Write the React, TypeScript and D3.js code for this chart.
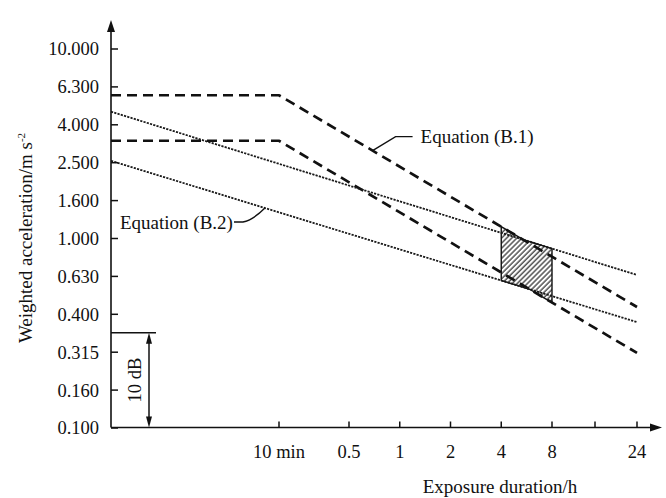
import React from 'react'
import * as d3 from 'd3'

const W = 666
const H = 498

// y axis labels (evenly spaced in the original drawing)
const yTickLabels = ['10.000', '6.300', '4.000', '2.500', '1.600', '1.000', '0.630', '0.400', '0.315', '0.160', '0.100']
// x axis ticks, exposure duration in hours
const xTickHours = [1 / 6, 0.5, 1, 2, 4, 8, 16, 24]
const xTickLabels = ['10 min', '0.5', '1', '2', '4', '8', '', '24']

// [hours, weighted acceleration m/s²]
const b1Upper: [number, number][] = [[1 / 60, 5.7], [1 / 6, 5.7], [24, 0.435]]
const b1Lower: [number, number][] = [[1 / 60, 3.28], [1 / 6, 3.28], [24, 0.249]]
const b2Upper: [number, number][] = [[1 / 60, 4.67], [24, 0.642]]
const b2Lower: [number, number][] = [[1 / 60, 2.57], [24, 0.362]]
const zoneHours = [4, 8]
const dbMarker = 10
const b1LabelAt = 0.69
const b2LabelAt = 0.1375

const FONT = '"Liberation Serif", "Times New Roman", serif'

export default function App() {
  const axisY = 427.5
  const axisX = 111

  const x = d3.scaleLog()
    .domain([1 / 60, 1 / 6, 0.5, 8, 16, 24])
    .range([axisX, 279, 349, 552, 595, 637])

  const yPoint = d3.scalePoint<string>().domain(yTickLabels).range([49, 428])
  const yLog = d3.scaleLog().domain([1, 10]).range([yPoint('1.000')!, yPoint('10.000')!])

  const line = d3.line<[number, number]>()
    .x(d => x(d[0]))
    .y(d => yLog(d[1]))

  // pixel y of a series at pixel x
  const lineY = (pts: [number, number][], px: number) => {
    const p = pts.map(d => [x(d[0]), yLog(d[1])])
    for (let i = 0; i < p.length - 1; i++) {
      if (px >= p[i][0] && px <= p[i + 1][0]) {
        const t = (px - p[i][0]) / (p[i + 1][0] - p[i][0])
        return p[i][1] + t * (p[i + 1][1] - p[i][1])
      }
    }
    return p[p.length - 1][1]
  }

  // hatched zone between 4 h and 8 h
  const x0 = x(zoneHours[0]), x1 = x(zoneHours[1])
  const xs = d3.range(0, 41).map(i => x0 + (x1 - x0) * i / 40)
  const top = xs.map(px => [px, Math.min(lineY(b1Upper, px), lineY(b2Upper, px))])
  const bot = xs.map(px => [px, Math.max(lineY(b1Lower, px), lineY(b2Lower, px))])
  const zone = top.concat(bot.reverse())
  const zonePath = 'M' + zone.map(p => p.join(',')).join('L') + 'Z'

  const dbTop = axisY - (yLog(1) - yLog(Math.pow(10, dbMarker / 20)))

  const a1x = x(b1LabelAt), a1y = lineY(b1Upper, a1x)
  const a2x = x(b2LabelAt), a2y = lineY(b2Lower, a2x)

  return (
    <svg width={W} height={H} style={{ position: 'absolute', left: 0, top: 0, background: '#fff' }}
      fontFamily={FONT} fill="#111">
      <defs>
        <pattern id="hatch" patternUnits="userSpaceOnUse" width={3.6} height={3.6} patternTransform="rotate(45)">
          <line x1={1} y1={0} x2={1} y2={3.6} stroke="#111" strokeWidth={1.1} />
        </pattern>
      </defs>

      {/* zone */}
      <path d={zonePath} fill="url(#hatch)" stroke="#111" strokeWidth={1.4} />

      {/* equation lines */}
      {[b1Upper, b1Lower].map((d, i) => (
        <path key={'b1' + i} d={line(d)!} fill="none" stroke="#111" strokeWidth={2.7} strokeDasharray="10,6" />
      ))}
      {[b2Upper, b2Lower].map((d, i) => (
        <path key={'b2' + i} d={line(d)!} fill="none" stroke="#1a1a1a" strokeWidth={1.8} strokeDasharray="2.2,1.2" />
      ))}

      {/* axes */}
      <line x1={axisX} y1={axisY} x2={axisX} y2={30} stroke="#111" strokeWidth={1.6} />
      <path d={`M${axisX},20 L${axisX - 4},32 L${axisX + 4},32 Z`} fill="#111" />
      <line x1={axisX} y1={axisY} x2={652} y2={axisY} stroke="#111" strokeWidth={1.6} />
      <path d={`M662,${axisY} L650,${axisY - 4} L650,${axisY + 4} Z`} fill="#111" />

      {yTickLabels.map(l => (
        <g key={l}>
          <line x1={axisX} x2={axisX + 7} y1={yPoint(l)} y2={yPoint(l)} stroke="#111" strokeWidth={1.5} />
          <text x={99} y={yPoint(l)} dy="0.35em" textAnchor="end" fontSize={18.5}>{l}</text>
        </g>
      ))}

      {xTickHours.map((h, i) => (
        <g key={i}>
          <line x1={x(h)} x2={x(h)} y1={axisY} y2={axisY - 6} stroke="#111" strokeWidth={1.5} />
          <text x={x(h)} y={457.5} textAnchor="middle" fontSize={18.5}>{xTickLabels[i]}</text>
        </g>
      ))}

      <text x={500} y={493} textAnchor="middle" fontSize={19}>Exposure duration/h</text>
      <text transform="translate(32,238) rotate(-90)" textAnchor="middle" fontSize={19}>
        Weighted acceleration/m s<tspan dy={-7} fontSize={11}>-2</tspan>
      </text>

      {/* 10 dB marker */}
      <line x1={axisX} x2={156} y1={dbTop} y2={dbTop} stroke="#111" strokeWidth={1.5} />
      <line x1={149} x2={149} y1={dbTop + 8} y2={axisY - 8} stroke="#111" strokeWidth={1.5} />
      <path d={`M149,${dbTop} L146,${dbTop + 11} L152,${dbTop + 11} Z`} fill="#111" />
      <path d={`M149,${axisY} L146,${axisY - 11} L152,${axisY - 11} Z`} fill="#111" />
      <text transform={`translate(141,${(dbTop + axisY) / 2}) rotate(-90)`} textAnchor="middle" fontSize={18.5}>10 dB</text>

      {/* labels */}
      <path d={`M${a1x},${a1y} L${a1x + 23},${a1y - 14} L${a1x + 40},${a1y - 14}`} fill="none" stroke="#111" strokeWidth={1.4} />
      <text x={a1x + 48} y={a1y - 14} dy="0.35em" fontSize={19}>Equation (B.1)</text>
      <path d={`M${a2x - 31},${a2y + 14} L${a2x - 22},${a2y + 14} Q${a2x - 12},${a2y + 12} ${a2x},${a2y}`} fill="none" stroke="#111" strokeWidth={1.4} />
      <text x={a2x - 32} y={a2y + 14} dy="0.35em" textAnchor="end" fontSize={19}>Equation (B.2)</text>
    </svg>
  )
}
